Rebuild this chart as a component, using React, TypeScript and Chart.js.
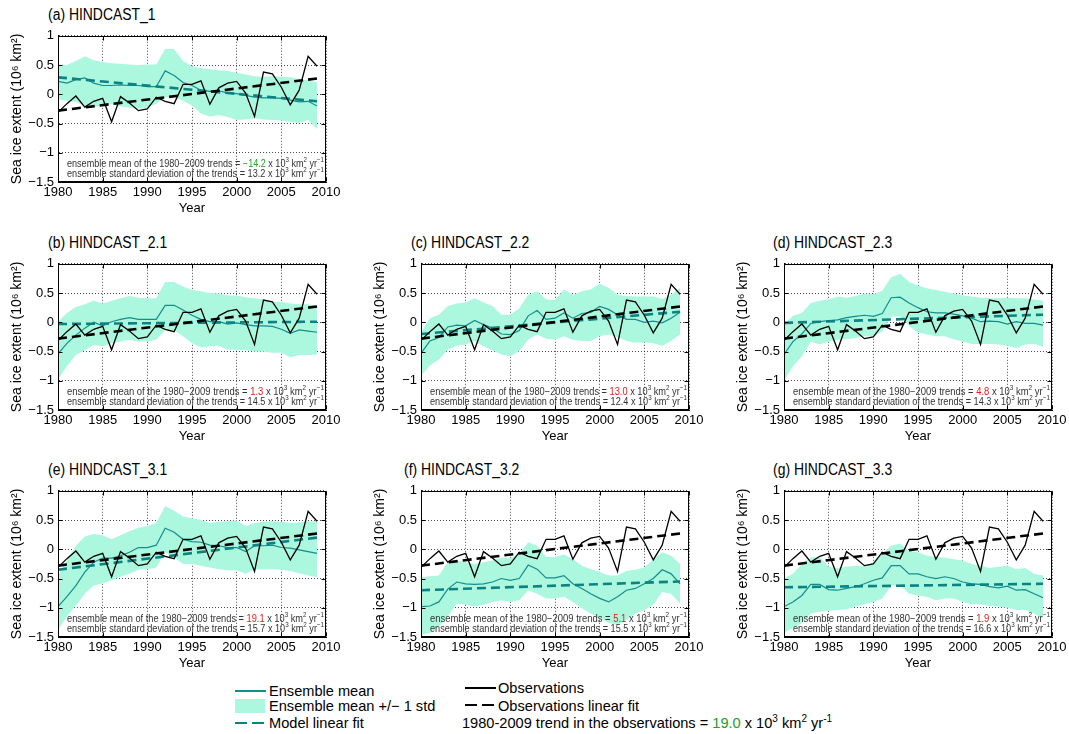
import React, { useEffect, useRef } from 'react';
import { Chart, registerables } from 'chart.js';
Chart.register(...registerables);

// ---------------- DATA ----------------
const years = [1980, 1981, 1982, 1983, 1984, 1985, 1986, 1987, 1988, 1989, 1990, 1991, 1992, 1993, 1994, 1995, 1996, 1997, 1998, 1999, 2000, 2001, 2002, 2003, 2004, 2005, 2006, 2007, 2008, 2009];
const fitYears = [1980, 2009];

const obsValues = [-0.31, -0.16, -0.03, -0.22, -0.12, -0.07, -0.47, -0.04, -0.15, -0.28, -0.25, -0.05, -0.12, -0.16, 0.17, 0.17, 0.23, -0.17, 0.11, 0.19, 0.22, 0.02, -0.38, 0.38, 0.35, 0.12, -0.18, 0.07, 0.65, 0.48];
const obsFit = [-0.28, 0.27];

const meanA = [0.22, 0.19, 0.25, 0.28, 0.19, 0.15, 0.15, 0.16, 0.15, 0.15, 0.13, 0.13, 0.40, 0.32, 0.20, 0.15, 0.07, 0.05, 0.06, 0.02, 0.01, -0.02, -0.05, -0.06, -0.06, -0.07, -0.10, -0.13, -0.12, -0.20];
const upperA = [0.51, 0.50, 0.57, 0.65, 0.58, 0.55, 0.53, 0.52, 0.51, 0.50, 0.51, 0.51, 0.78, 0.77, 0.57, 0.48, 0.45, 0.43, 0.41, 0.40, 0.37, 0.34, 0.31, 0.30, 0.31, 0.30, 0.29, 0.26, 0.24, 0.20];
const lowerA = [-0.09, -0.11, -0.13, -0.20, -0.22, -0.19, -0.17, -0.21, -0.23, -0.25, -0.23, -0.16, -0.05, -0.05, -0.11, -0.19, -0.33, -0.38, -0.36, -0.39, -0.44, -0.43, -0.41, -0.43, -0.44, -0.45, -0.47, -0.49, -0.44, -0.60];
const fitA = [0.29, -0.12];

const meanB = [-0.54, -0.36, -0.22, -0.10, 0.00, -0.06, 0.01, 0.05, 0.08, 0.05, 0.05, 0.05, 0.29, 0.29, 0.21, 0.12, 0.05, 0.01, 0.01, -0.03, -0.01, -0.04, -0.06, -0.06, -0.07, -0.12, -0.19, -0.13, -0.15, -0.17];
const upperB = [0.01, 0.16, 0.26, 0.31, 0.37, 0.32, 0.37, 0.41, 0.45, 0.42, 0.41, 0.41, 0.69, 0.69, 0.61, 0.55, 0.53, 0.50, 0.49, 0.46, 0.46, 0.43, 0.41, 0.39, 0.35, 0.35, 0.32, 0.31, 0.31, 0.28];
const lowerB = [-0.98, -0.75, -0.56, -0.48, -0.39, -0.41, -0.36, -0.33, -0.30, -0.33, -0.33, -0.30, -0.13, -0.13, -0.24, -0.36, -0.43, -0.41, -0.40, -0.47, -0.47, -0.48, -0.50, -0.50, -0.52, -0.52, -0.60, -0.56, -0.56, -0.55];
const fitB = [-0.03, 0.01];

const meanC = [-0.53, -0.32, -0.26, -0.08, -0.05, -0.06, 0.03, -0.04, -0.10, -0.20, -0.21, -0.14, 0.11, 0.20, 0.05, 0.07, 0.16, 0.07, 0.15, 0.17, 0.27, 0.22, 0.13, 0.05, 0.05, 0.00, 0.02, -0.01, 0.07, 0.17];
const upperC = [-0.17, 0.07, 0.13, 0.28, 0.32, 0.34, 0.41, 0.34, 0.28, 0.13, 0.13, 0.24, 0.47, 0.53, 0.39, 0.38, 0.56, 0.47, 0.53, 0.56, 0.66, 0.59, 0.47, 0.45, 0.44, 0.44, 0.44, 0.40, 0.47, 0.59];
const lowerC = [-0.91, -0.74, -0.64, -0.47, -0.40, -0.38, -0.32, -0.41, -0.48, -0.55, -0.58, -0.49, -0.30, -0.21, -0.28, -0.30, -0.24, -0.30, -0.32, -0.32, -0.24, -0.21, -0.25, -0.32, -0.35, -0.34, -0.36, -0.40, -0.32, -0.21];
const fitC = [-0.20, 0.18];

const meanD = [-0.55, -0.33, -0.20, -0.02, 0.01, 0.03, 0.04, 0.08, 0.10, 0.12, 0.10, 0.15, 0.42, 0.43, 0.33, 0.25, 0.18, 0.16, 0.16, 0.14, 0.11, 0.07, 0.01, 0.02, 0.01, -0.03, 0.01, -0.02, -0.02, -0.05];
const upperD = [-0.03, 0.11, 0.16, 0.33, 0.37, 0.39, 0.44, 0.42, 0.45, 0.49, 0.48, 0.54, 0.77, 0.83, 0.69, 0.63, 0.58, 0.55, 0.52, 0.49, 0.46, 0.44, 0.42, 0.41, 0.41, 0.42, 0.41, 0.41, 0.39, 0.37];
const lowerD = [-1.00, -0.75, -0.58, -0.33, -0.38, -0.33, -0.30, -0.29, -0.27, -0.24, -0.24, -0.16, 0.10, 0.10, -0.06, -0.18, -0.21, -0.24, -0.24, -0.29, -0.33, -0.37, -0.37, -0.37, -0.38, -0.40, -0.44, -0.38, -0.37, -0.42];
const fitD = [-0.01, 0.13];

const meanE = [-0.98, -0.81, -0.62, -0.39, -0.22, -0.15, -0.15, -0.11, -0.05, 0.03, 0.03, 0.07, 0.36, 0.29, 0.17, 0.13, 0.12, 0.07, 0.06, 0.03, 0.03, -0.04, 0.06, 0.06, 0.07, 0.03, 0.02, -0.01, -0.04, -0.07];
const upperE = [-0.45, -0.19, 0.06, 0.22, 0.26, 0.24, 0.17, 0.24, 0.31, 0.37, 0.40, 0.45, 0.74, 0.66, 0.56, 0.53, 0.50, 0.45, 0.47, 0.48, 0.49, 0.40, 0.45, 0.47, 0.48, 0.47, 0.45, 0.46, 0.48, 0.48];
const lowerE = [-1.38, -1.15, -0.96, -0.76, -0.62, -0.58, -0.53, -0.47, -0.42, -0.35, -0.34, -0.31, -0.05, -0.14, -0.25, -0.25, -0.28, -0.31, -0.34, -0.36, -0.36, -0.42, -0.34, -0.34, -0.34, -0.35, -0.37, -0.41, -0.45, -0.48];
const fitE = [-0.35, 0.20];

const meanF = [-0.98, -0.97, -0.90, -0.68, -0.56, -0.59, -0.60, -0.59, -0.56, -0.50, -0.53, -0.50, -0.27, -0.34, -0.49, -0.49, -0.45, -0.59, -0.67, -0.76, -0.84, -0.90, -0.81, -0.70, -0.67, -0.59, -0.50, -0.35, -0.42, -0.59];
const upperF = [-0.48, -0.46, -0.45, -0.22, -0.19, -0.22, -0.25, -0.22, -0.19, -0.14, -0.15, -0.08, 0.12, 0.06, -0.13, -0.13, -0.09, -0.17, -0.28, -0.34, -0.39, -0.45, -0.45, -0.37, -0.35, -0.31, -0.17, -0.05, -0.11, -0.25];
const lowerF = [-1.46, -1.43, -1.32, -1.15, -0.93, -0.95, -0.98, -0.95, -0.90, -0.87, -0.90, -0.87, -0.70, -0.76, -0.84, -0.84, -0.81, -0.90, -1.01, -1.10, -1.18, -1.26, -1.29, -1.21, -1.10, -1.04, -0.95, -0.73, -0.76, -0.93];
const fitF = [-0.70, -0.55];

const meanG = [-0.98, -0.90, -0.79, -0.60, -0.60, -0.69, -0.70, -0.67, -0.64, -0.59, -0.53, -0.49, -0.28, -0.28, -0.42, -0.42, -0.47, -0.50, -0.47, -0.50, -0.56, -0.59, -0.60, -0.64, -0.66, -0.63, -0.70, -0.69, -0.76, -0.83];
const upperG = [-0.50, -0.42, -0.25, -0.14, -0.13, -0.30, -0.32, -0.30, -0.28, -0.28, -0.22, -0.08, 0.06, 0.10, -0.03, -0.05, -0.11, -0.13, -0.14, -0.17, -0.19, -0.25, -0.28, -0.32, -0.30, -0.28, -0.34, -0.32, -0.42, -0.45];
const lowerG = [-1.42, -1.35, -1.26, -1.10, -1.07, -1.05, -1.04, -1.03, -0.98, -0.94, -0.90, -0.84, -0.62, -0.62, -0.76, -0.79, -0.81, -0.87, -0.84, -0.84, -0.90, -0.94, -0.94, -0.97, -0.98, -1.00, -1.04, -1.04, -1.10, -1.18];
const fitG = [-0.65, -0.59];

const panelTitles = ['(a) HINDCAST_1', '(b) HINDCAST_2.1', '(c) HINDCAST_2.2', '(d) HINDCAST_2.3', '(e) HINDCAST_3.1', '(f) HINDCAST_3.2', '(g) HINDCAST_3.3'];
const trendMeans = ['\u221214.2', '1.3', '13.0', '4.8', '19.1', '5.1', '1.9'];
const trendStds = ['13.2', '14.5', '12.4', '14.3', '15.7', '15.5', '16.6'];
const obsTrend = '19.0';

const panelSeries = [
  [meanA, upperA, lowerA, fitA],
  [meanB, upperB, lowerB, fitB],
  [meanC, upperC, lowerC, fitC],
  [meanD, upperD, lowerD, fitD],
  [meanE, upperE, lowerE, fitE],
  [meanF, upperF, lowerF, fitF],
  [meanG, upperG, lowerG, fitG],
];

// ---------------- LAYOUT / STYLE ----------------
const plotLeft = [58, 58, 421, 784, 58, 421, 784];
const plotTop = [34, 262, 262, 262, 489, 489, 489];
const titleLeft = [48, 48, 411, 773, 48, 404, 773];
const PLOT_W = 268;
const PLOT_H = 148;
const AXIS_W = 50;
const AXIS_H = 34;
const PAD_T = 10;
const PAD_R = 18;
const CANVAS_W = AXIS_W + PLOT_W + PAD_R;
const CANVAS_H = PAD_T + PLOT_H + AXIS_H;

const FONT = '"Liberation Sans", Arial, Helvetica, sans-serif';
const TEAL_LINE = '#148d8d';
const TEAL_DASH = '#0c8282';
const FILL = '#acf8de';
const GREEN = '#22a022';
const RED = '#e41a1c';
const TEXT_GREY = '#333333';

const pts = (xs: number[], ys: number[]) => xs.map((x, i) => ({ x, y: ys[i] }));
const fmtY = (v: number) => (v < 0 ? '\u2212' : '') + String(Math.round(Math.abs(v) * 10) / 10);

type Seg = { t: string; c?: string; sup?: boolean };

function drawRich(ctx: CanvasRenderingContext2D, x: number, y: number, segs: Seg[], size: number, measureOnly = false) {
  let cx = x;
  for (const s of segs) {
    const fs = s.sup ? size * 0.68 : size;
    ctx.font = `${fs}px ${FONT}`;
    const w = ctx.measureText(s.t).width;
    if (!measureOnly) {
      ctx.fillStyle = s.c || TEXT_GREY;
      ctx.fillText(s.t, cx, s.sup ? y - size * 0.42 : y);
    }
    cx += w;
  }
  return cx - x;
}

function drawFitted(ctx: CanvasRenderingContext2D, x: number, y: number, segs: Seg[], size: number, target: number) {
  const w = drawRich(ctx, 0, 0, segs, size, true);
  const k = Math.min(1, target / w);
  ctx.save();
  ctx.translate(x, y);
  ctx.scale(k, 1);
  drawRich(ctx, 0, 0, segs, size);
  ctx.restore();
}

const boxPlugin = {
  id: 'panelBox',
  afterDatasetsDraw(chart: any, _args: any, opts: any) {
    const { ctx, chartArea } = chart;
    const { left, right, top, bottom } = chartArea;
    ctx.save();
    ctx.setLineDash([]);
    ctx.strokeStyle = '#000';
    ctx.lineWidth = 1;
    const L = Math.round(left) + 0.5, R = Math.round(right) - 0.5, T = Math.round(top) + 0.5, B = Math.round(bottom) - 0.5;
    ctx.strokeRect(L, T, R - L, B - T);
    const xs = chart.scales.x, ys = chart.scales.y;
    ctx.beginPath();
    xs.ticks.forEach((t: any) => {
      const px = Math.round(xs.getPixelForValue(t.value)) + 0.5;
      ctx.moveTo(px, B); ctx.lineTo(px, B - 4);
      ctx.moveTo(px, T); ctx.lineTo(px, T + 4);
    });
    ys.ticks.forEach((t: any) => {
      const py = Math.round(ys.getPixelForValue(t.value)) + 0.5;
      ctx.moveTo(L, py); ctx.lineTo(L + 4, py);
      ctx.moveTo(R, py); ctx.lineTo(R - 4, py);
    });
    ctx.stroke();

    const line1: Seg[] = [
      { t: 'ensemble mean of the 1980\u22122009 trends = ' },
      { t: opts.mean, c: opts.color },
      { t: ' x 10' }, { t: '3', sup: true }, { t: ' km' }, { t: '2', sup: true }, { t: ' yr' }, { t: '\u22121', sup: true },
    ];
    const line2: Seg[] = [
      { t: 'ensemble standard deviation of the trends = ' + opts.std + ' x 10' },
      { t: '3', sup: true }, { t: ' km' }, { t: '2', sup: true }, { t: ' yr' }, { t: '\u22121', sup: true },
    ];
    ctx.textBaseline = 'middle';
    ctx.textAlign = 'left';
    const target = right - left - 11;
    drawFitted(ctx, left + 9, bottom - 18, line1, 10, target);
    drawFitted(ctx, left + 9, bottom - 8, line2, 10, target);
    ctx.restore();
  },
};

function Panel({ idx }: { idx: number }) {
  const ref = useRef<HTMLCanvasElement | null>(null);
  useEffect(() => {
    const [mean, upper, lower, fit] = panelSeries[idx];
    const tickFont = { family: FONT, size: 13 };
    const titleFont = { family: FONT, size: 14 };
    const gridCfg = { color: 'rgba(0,0,0,0.7)', lineWidth: 1, drawTicks: false };
    const borderCfg = { display: true, color: '#000', width: 1, dash: [1, 2] };
    const chart = new Chart(ref.current as HTMLCanvasElement, {
      type: 'line',
      data: {
        datasets: [
          { label: 'Observations', data: pts(years, obsValues), borderColor: '#000', borderWidth: 1.3, pointRadius: 0, fill: false },
          { label: 'Observations linear fit', data: pts(fitYears, obsFit), borderColor: '#000', borderWidth: 2.6, borderDash: [9, 5], pointRadius: 0, fill: false },
          { label: 'Model linear fit', data: pts(fitYears, fit), borderColor: TEAL_DASH, borderWidth: 2.6, borderDash: [9, 5], pointRadius: 0, fill: false },
          { label: 'Ensemble mean', data: pts(years, mean), borderColor: TEAL_LINE, borderWidth: 1.2, pointRadius: 0, fill: false },
          { label: 'upper', data: pts(years, upper), borderColor: 'rgba(0,0,0,0)', borderWidth: 0, backgroundColor: FILL, pointRadius: 0, fill: { target: 5 } },
          { label: 'lower', data: pts(years, lower), borderColor: 'rgba(0,0,0,0)', borderWidth: 0, pointRadius: 0, fill: false },
        ] as any,
      },
      options: {
        animation: false,
        responsive: false,
        devicePixelRatio: 1,
        events: [],
        layout: { padding: { left: 0, top: PAD_T, right: PAD_R, bottom: 0 } },
        plugins: {
          legend: { display: false },
          tooltip: { enabled: false },
          panelBox: { mean: trendMeans[idx], std: trendStds[idx], color: idx === 0 ? GREEN : RED },
        } as any,
        scales: {
          x: {
            type: 'linear', min: 1980, max: 2010,
            afterFit: (s: any) => { s.height = AXIS_H; },
            ticks: { stepSize: 5, color: '#000', font: tickFont, padding: 3, maxRotation: 0, autoSkip: false, callback: (v: any) => String(v) },
            grid: gridCfg, border: borderCfg,
            title: { display: true, text: 'Year', color: '#000', font: tickFont, padding: { top: 0, bottom: 0 } },
          },
          y: {
            min: -1.5, max: 1,
            afterFit: (s: any) => { s.width = AXIS_W; },
            ticks: { stepSize: 0.5, color: '#000', font: tickFont, padding: 4, callback: (v: any) => fmtY(Number(v)) },
            grid: gridCfg, border: borderCfg,
            title: { display: true, text: 'Sea ice extent (10\u2076 km\u00b2)', color: '#000', font: titleFont, padding: { top: 1, bottom: 0 } },
          },
        } as any,
      },
      plugins: [boxPlugin as any],
    });
    return () => chart.destroy();
  }, [idx]);
  return (
    <canvas
      ref={ref}
      width={CANVAS_W}
      height={CANVAS_H}
      style={{ position: 'absolute', left: plotLeft[idx] - AXIS_W, top: plotTop[idx] - PAD_T, width: CANVAS_W, height: CANVAS_H }}
    />
  );
}

const supStyle: React.CSSProperties = { fontSize: 10, position: 'relative', top: -6, lineHeight: 0 };

function Legend() {
  const txt = (left: number, cy: number, content: React.ReactNode) => (
    <div style={{ position: 'absolute', left, top: cy - 8, height: 16, lineHeight: '16px', fontSize: 14.6, fontFamily: FONT, color: '#000', whiteSpace: 'nowrap' }}>{content}</div>
  );
  const hline = (left: number, cy: number, w: number, color: string, th: number) => (
    <div style={{ position: 'absolute', left, top: cy - th / 2, width: w, height: th, background: color }} />
  );
  return (
    <>
      {hline(235, 691, 31, TEAL_LINE, 1.3)}
      {txt(269, 691, 'Ensemble mean')}
      <div style={{ position: 'absolute', left: 235, top: 699, width: 30, height: 14, background: FILL }} />
      {txt(269, 706, 'Ensemble mean +/\u2212 1 std')}
      {hline(235, 723, 12, TEAL_DASH, 2.5)}
      {hline(252, 723, 12, TEAL_DASH, 2.5)}
      {txt(269, 723, 'Model linear fit')}

      {hline(465, 688, 31, '#000', 1.3)}
      {txt(498, 688, 'Observations')}
      {hline(465, 705, 12, '#000', 2.5)}
      {hline(482, 705, 12, '#000', 2.5)}
      {txt(498, 706, 'Observations linear fit')}
      {txt(462, 723, (
        <span>
          1980-2009 trend in the observations = <span style={{ color: GREEN }}>{obsTrend}</span> x 10<span style={supStyle}>3</span> km<span style={supStyle}>2</span> yr<span style={supStyle}>-1</span>
        </span>
      ))}
    </>
  );
}

export default function App() {
  return (
    <div style={{ position: 'absolute', left: 0, top: 0, width: 1069, height: 734, background: '#fff', overflow: 'hidden', fontFamily: FONT }}>
      {panelTitles.map((t, i) => (
        <div key={'t' + i} style={{ position: 'absolute', left: titleLeft[i], top: plotTop[i] - 28, height: 18, lineHeight: '18px', fontSize: 16, fontFamily: FONT, color: '#000', whiteSpace: 'nowrap', transform: 'scaleX(0.87)', transformOrigin: 'left center' }}>{t}</div>
      ))}
      {panelTitles.map((_, i) => <Panel key={'p' + i} idx={i} />)}
      <Legend />
    </div>
  );
}
